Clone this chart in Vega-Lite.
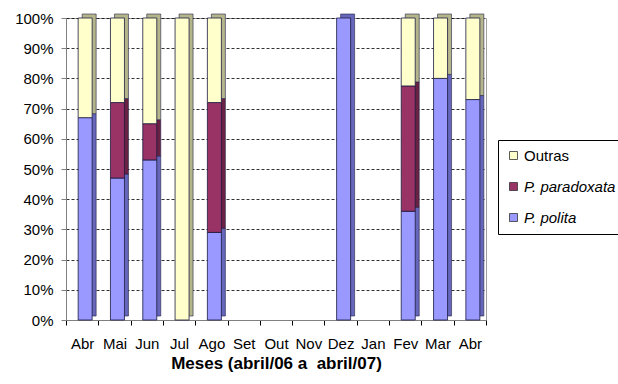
{
  "$schema": "https://vega.github.io/schema/vega-lite/v6.json",
  "width": 420,
  "height": 302,
  "autosize": {"type": "none"},
  "padding": {"left": 66, "top": 18, "right": 132, "bottom": 64},
  "background": "white",
  "config": {
    "font": "Liberation Sans",
    "view": {"stroke": "#a0a0a0", "strokeWidth": 1}
  },
  "data": {
    "values": [
      {"mes": "Abr06", "serie": "P. polita", "ord": 1, "v": 67},
      {"mes": "Abr06", "serie": "Outras", "ord": 3, "v": 33},
      {"mes": "Mai", "serie": "P. polita", "ord": 1, "v": 47},
      {"mes": "Mai", "serie": "P. paradoxata", "ord": 2, "v": 25},
      {"mes": "Mai", "serie": "Outras", "ord": 3, "v": 28},
      {"mes": "Jun", "serie": "P. polita", "ord": 1, "v": 53},
      {"mes": "Jun", "serie": "P. paradoxata", "ord": 2, "v": 12},
      {"mes": "Jun", "serie": "Outras", "ord": 3, "v": 35},
      {"mes": "Jul", "serie": "Outras", "ord": 3, "v": 100},
      {"mes": "Ago", "serie": "P. polita", "ord": 1, "v": 29},
      {"mes": "Ago", "serie": "P. paradoxata", "ord": 2, "v": 43},
      {"mes": "Ago", "serie": "Outras", "ord": 3, "v": 28},
      {"mes": "Dez", "serie": "P. polita", "ord": 1, "v": 100},
      {"mes": "Fev", "serie": "P. polita", "ord": 1, "v": 36},
      {"mes": "Fev", "serie": "P. paradoxata", "ord": 2, "v": 41.5},
      {"mes": "Fev", "serie": "Outras", "ord": 3, "v": 22.5},
      {"mes": "Mar", "serie": "P. polita", "ord": 1, "v": 80},
      {"mes": "Mar", "serie": "Outras", "ord": 3, "v": 20},
      {"mes": "Abr07", "serie": "P. polita", "ord": 1, "v": 73},
      {"mes": "Abr07", "serie": "Outras", "ord": 3, "v": 27}
    ]
  },
  "encoding": {
    "x": {
      "field": "mes",
      "type": "nominal",
      "sort": null,
      "scale": {
        "domain": ["Abr06", "Mai", "Jun", "Jul", "Ago", "Set", "Out", "Nov", "Dez", "Jan", "Fev", "Mar", "Abr07"],
        "paddingInner": 0,
        "paddingOuter": 0
      },
      "axis": {
        "title": "Meses (abril/06 a\u00a0 abril/07)",
        "titleFontSize": 17,
        "titleFontWeight": "bold",
        "titleColor": "black",
        "titlePadding": 4,
        "labelExpr": "datum.value ? substring(datum.value, 0, 3) : ''",
        "labelAngle": 0,
        "labelFontSize": 15,
        "labelColor": "black",
        "labelPadding": 11,
        "tickBand": "extent",
        "tickSize": 5,
        "tickColor": "#000000",
        "domainColor": "#808080",
        "grid": false
      }
    },
    "y": {
      "field": "v",
      "type": "quantitative",
      "stack": "normalize",
      "scale": {"domain": [0, 1], "nice": false},
      "axis": {
        "title": null,
        "format": ".0%",
        "values": [0, 0.1, 0.2, 0.3, 0.4, 0.5, 0.6, 0.7, 0.8, 0.9, 1],
        "labelFontSize": 15,
        "labelColor": "black",
        "labelPadding": 8,
        "tickSize": 5,
        "tickColor": "#808080",
        "domainColor": "#808080",
        "grid": true,
        "gridColor": "#000000",
        "gridDash": [3, 2],
        "gridOpacity": 0.8
      }
    },
    "order": {"field": "ord", "type": "quantitative"}
  },
  "layer": [
    {
      "mark": {"type": "bar", "size": 14, "xOffset": 7, "yOffset": -4, "stroke": "#222244", "strokeWidth": 0.6},
      "encoding": {
        "color": {
          "field": "serie",
          "type": "nominal",
          "scale": {"domain": ["Outras", "P. paradoxata", "P. polita"], "range": ["#b5b58c", "#6a2244", "#6666bb"]},
          "legend": null
        }
      }
    },
    {
      "mark": {"type": "bar", "size": 14, "xOffset": 3, "stroke": "#1a1a40", "strokeWidth": 0.8},
      "encoding": {
        "color": {
          "field": "serie",
          "type": "nominal",
          "scale": {"domain": ["Outras", "P. paradoxata", "P. polita"], "range": ["#ffffcc", "#993366", "#9999ff"]},
          "legend": {
            "title": null,
            "orient": "none",
            "legendX": 432,
            "legendY": 122,
            "direction": "vertical",
            "symbolType": "square",
            "symbolSize": 64,
            "symbolStrokeColor": "#333333",
            "symbolStrokeWidth": 0.8,
            "labelFontSize": 15,
            "labelColor": "black",
            "labelOffset": 3,
            "rowPadding": 15,
            "padding": 8,
            "strokeColor": "#000000",
            "fillColor": "white",
            "labelLimit": 120,
            "encode": {
              "labels": {
                "update": {
                  "fontStyle": {"signal": "datum.label === 'Outras' ? 'normal' : 'italic'"}
                }
              }
            }
          }
        }
      }
    }
  ],
  "resolve": {"scale": {"color": "independent"}}
}
